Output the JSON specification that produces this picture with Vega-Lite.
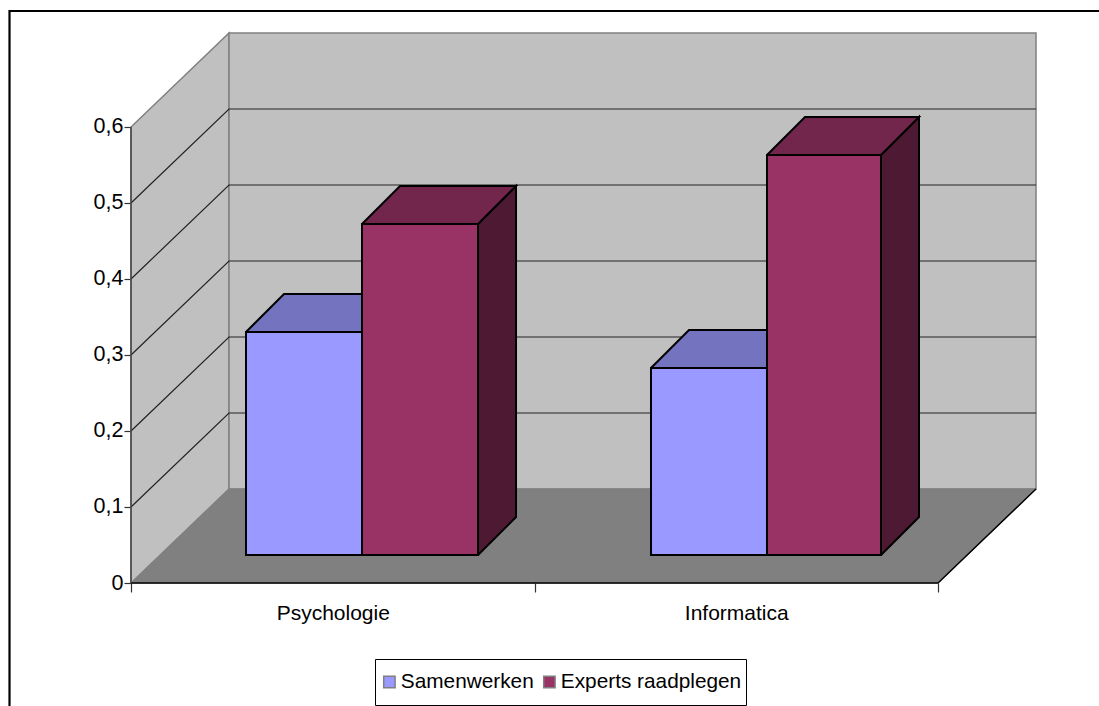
{
"$schema":"https://vega.github.io/schema/vega-lite/v6.json",
"width":906,"height":550,
"autosize":"none",
"padding":{"left":131,"top":33,"right":62,"bottom":123},
"background":"white",
"config":{"view":{"stroke":null},"font":"Liberation Sans"},
"datasets":{
"walls":[
{"face":"left wall","part":"wall","vertex":1,"x":0,"y":0},
{"face":"left wall","part":"wall","vertex":2,"x":0,"y":0.6},
{"face":"left wall","part":"wall","vertex":3,"x":0.2429,"y":0.7237},
{"face":"left wall","part":"wall","vertex":4,"x":0.2429,"y":0.1237},
{"face":"left wall","part":"wall","vertex":5,"x":0,"y":0},
{"face":"back wall","part":"wall","vertex":1,"x":0.2429,"y":0.1237},
{"face":"back wall","part":"wall","vertex":2,"x":0.2429,"y":0.7237},
{"face":"back wall","part":"wall","vertex":3,"x":2.2429,"y":0.7237},
{"face":"back wall","part":"wall","vertex":4,"x":2.2429,"y":0.1237},
{"face":"back wall","part":"wall","vertex":5,"x":0.2429,"y":0.1237}
],
"floor":[
{"face":"floor","part":"floor","vertex":1,"x":0,"y":0},
{"face":"floor","part":"floor","vertex":2,"x":0.2429,"y":0.1237},
{"face":"floor","part":"floor","vertex":3,"x":2.2429,"y":0.1237},
{"face":"floor","part":"floor","vertex":4,"x":2,"y":0},
{"face":"floor","part":"floor","vertex":5,"x":0,"y":0}
],
"grid":[
{"tick":0.1,"vertex":1,"x":0,"y":0.1},{"tick":0.1,"vertex":2,"x":0.2429,"y":0.2237},{"tick":0.1,"vertex":3,"x":2.2429,"y":0.2237},
{"tick":0.2,"vertex":1,"x":0,"y":0.2},{"tick":0.2,"vertex":2,"x":0.2429,"y":0.3237},{"tick":0.2,"vertex":3,"x":2.2429,"y":0.3237},
{"tick":0.3,"vertex":1,"x":0,"y":0.3},{"tick":0.3,"vertex":2,"x":0.2429,"y":0.4237},{"tick":0.3,"vertex":3,"x":2.2429,"y":0.4237},
{"tick":0.4,"vertex":1,"x":0,"y":0.4},{"tick":0.4,"vertex":2,"x":0.2429,"y":0.5237},{"tick":0.4,"vertex":3,"x":2.2429,"y":0.5237},
{"tick":0.5,"vertex":1,"x":0,"y":0.5},{"tick":0.5,"vertex":2,"x":0.2429,"y":0.6237},{"tick":0.5,"vertex":3,"x":2.2429,"y":0.6237}
],
"edges":[
{"edge":"floor","vertex":1,"x":0,"y":0},{"edge":"floor","vertex":2,"x":2,"y":0},{"edge":"floor","vertex":3,"x":2.2429,"y":0.1237}
],
"axisline":[
{"edge":"axis","vertex":1,"x":0,"y":0},{"edge":"axis","vertex":2,"x":0,"y":0.6}
],
"frame":[
{"edge":"frame","vertex":1,"x":-0.3011,"y":-0.2},{"edge":"frame","vertex":2,"x":-0.3011,"y":0.7526},{"edge":"frame","vertex":3,"x":2.42,"y":0.7526}
],
"faces":[
{"face":"PS side","part":"Samenwerken side","vertex":1,"x":0.5725,"y":0.0368},{"face":"PS side","part":"Samenwerken side","vertex":2,"x":0.6667,"y":0.0868},{"face":"PS side","part":"Samenwerken side","vertex":3,"x":0.6667,"y":0.3803},{"face":"PS side","part":"Samenwerken side","vertex":4,"x":0.5725,"y":0.3303},{"face":"PS side","part":"Samenwerken side","vertex":5,"x":0.5725,"y":0.0368},
{"face":"PS top","part":"Samenwerken top","vertex":1,"x":0.285,"y":0.3303},{"face":"PS top","part":"Samenwerken top","vertex":2,"x":0.3792,"y":0.3803},{"face":"PS top","part":"Samenwerken top","vertex":3,"x":0.6667,"y":0.3803},{"face":"PS top","part":"Samenwerken top","vertex":4,"x":0.5725,"y":0.3303},{"face":"PS top","part":"Samenwerken top","vertex":5,"x":0.285,"y":0.3303},
{"face":"PE side","part":"Experts side","vertex":1,"x":0.86,"y":0.0368},{"face":"PE side","part":"Experts side","vertex":2,"x":0.9542,"y":0.0868},{"face":"PE side","part":"Experts side","vertex":3,"x":0.9542,"y":0.5224},{"face":"PE side","part":"Experts side","vertex":4,"x":0.86,"y":0.4724},{"face":"PE side","part":"Experts side","vertex":5,"x":0.86,"y":0.0368},
{"face":"PE top","part":"Experts top","vertex":1,"x":0.5725,"y":0.4724},{"face":"PE top","part":"Experts top","vertex":2,"x":0.6667,"y":0.5224},{"face":"PE top","part":"Experts top","vertex":3,"x":0.9542,"y":0.5224},{"face":"PE top","part":"Experts top","vertex":4,"x":0.86,"y":0.4724},{"face":"PE top","part":"Experts top","vertex":5,"x":0.5725,"y":0.4724},
{"face":"IS side","part":"Samenwerken side","vertex":1,"x":1.5762,"y":0.0368},{"face":"IS side","part":"Samenwerken side","vertex":2,"x":1.6704,"y":0.0868},{"face":"IS side","part":"Samenwerken side","vertex":3,"x":1.6704,"y":0.3329},{"face":"IS side","part":"Samenwerken side","vertex":4,"x":1.5762,"y":0.2829},{"face":"IS side","part":"Samenwerken side","vertex":5,"x":1.5762,"y":0.0368},
{"face":"IS top","part":"Samenwerken top","vertex":1,"x":1.2887,"y":0.2829},{"face":"IS top","part":"Samenwerken top","vertex":2,"x":1.3829,"y":0.3329},{"face":"IS top","part":"Samenwerken top","vertex":3,"x":1.6704,"y":0.3329},{"face":"IS top","part":"Samenwerken top","vertex":4,"x":1.5762,"y":0.2829},{"face":"IS top","part":"Samenwerken top","vertex":5,"x":1.2887,"y":0.2829},
{"face":"IE side","part":"Experts side","vertex":1,"x":1.8587,"y":0.0368},{"face":"IE side","part":"Experts side","vertex":2,"x":1.9529,"y":0.0868},{"face":"IE side","part":"Experts side","vertex":3,"x":1.9529,"y":0.6132},{"face":"IE side","part":"Experts side","vertex":4,"x":1.8587,"y":0.5632},{"face":"IE side","part":"Experts side","vertex":5,"x":1.8587,"y":0.0368},
{"face":"IE top","part":"Experts top","vertex":1,"x":1.5762,"y":0.5632},{"face":"IE top","part":"Experts top","vertex":2,"x":1.6704,"y":0.6132},{"face":"IE top","part":"Experts top","vertex":3,"x":1.9529,"y":0.6132},{"face":"IE top","part":"Experts top","vertex":4,"x":1.8587,"y":0.5632},{"face":"IE top","part":"Experts top","vertex":5,"x":1.5762,"y":0.5632}
],
"bars":[
{"category":"Psychologie","series":"Samenwerken","value":0.2935,"start":0.285,"end":0.5725},
{"category":"Psychologie","series":"Experts raadplegen","value":0.4356,"start":0.5725,"end":0.86},
{"category":"Informatica","series":"Samenwerken","value":0.2461,"start":1.2887,"end":1.5762},
{"category":"Informatica","series":"Experts raadplegen","value":0.5264,"start":1.5762,"end":1.8587}
]
},
"layer":[
{"data":{"name":"walls"},
 "mark":{"type":"line","stroke":"#808080","strokeWidth":1.5},
 "encoding":{
  "x":{"field":"x","type":"quantitative","title":null,"scale":{"domain":[0,2.24535],"nice":false,"zero":false},
   "axis":{"values":[0,0.5,1,1.5,2],"grid":false,"domain":false,"title":null,"tickSize":9,"tickColor":"#333333","tickWidth":1.2,
    "tickOpacity":{"condition":{"test":"datum.value===0.5||datum.value===1.5","value":0},"value":1},
    "labelExpr":"datum.value===0.5?'Psychologie':datum.value===1.5?'Informatica':''","labelFontSize":21,"labelFont":"Liberation Sans","labelColor":"#000000","labelPadding":10,"labelAngle":0,"labelFlush":false,"labelOverlap":false}},
  "y":{"field":"y","type":"quantitative","title":null,"scale":{"domain":[0,0.72368],"nice":false,"zero":false},
   "axis":{"values":[0,0.1,0.2,0.3,0.4,0.5,0.6],"grid":false,"domain":false,"title":null,"tickSize":7,"tickColor":"#333333","tickWidth":1.2,
    "labelExpr":"replace(format(datum.value,'.1~f'),'.',',')","labelFontSize":21.5,"labelFont":"Liberation Sans","labelColor":"#000000","labelPadding":1,"labelOverlap":false}},
  "fill":{"field":"part","type":"nominal","title":null,"scale":{
    "domain":["Samenwerken","Experts raadplegen","wall","floor","Samenwerken top","Samenwerken side","Experts top","Experts side"],
    "range":["#9999FF","#993366","#C0C0C0","#808080","#7373BF","#4D4D80","#73264C","#4D1933"]},
   "legend":{"values":["Samenwerken","Experts raadplegen"],"title":null,"orient":"none","legendX":244,"legendY":626,"direction":"horizontal","columns":2,
    "fillColor":"#FFFFFF","strokeColor":"#000000","padding":4,"symbolType":"square","symbolSize":130,"symbolStrokeColor":"#000000","symbolStrokeWidth":1.5,
    "labelFontSize":20.8,"labelFont":"Liberation Sans","labelColor":"#000000","labelOffset":1,"columnPadding":5,"labelLimit":300,"clipHeight":38}},
  "detail":{"field":"face"},
  "order":{"field":"vertex","type":"quantitative"}
 }},
{"data":{"name":"floor"},
 "mark":{"type":"line","stroke":"#808080","strokeWidth":1},
 "encoding":{
  "x":{"field":"x","type":"quantitative","title":null},
  "y":{"field":"y","type":"quantitative","title":null},
  "fill":{"field":"part","type":"nominal","title":null},
  "detail":{"field":"face"},
  "order":{"field":"vertex","type":"quantitative"}
 }},
{"data":{"name":"grid"},
 "mark":{"type":"line","stroke":"#222222","strokeWidth":1.2},
 "encoding":{
  "x":{"field":"x","type":"quantitative","title":null},
  "y":{"field":"y","type":"quantitative","title":null},
  "detail":{"field":"tick"},
  "order":{"field":"vertex","type":"quantitative"}
 }},
{"data":{"name":"edges"},
 "mark":{"type":"line","stroke":"#000000","strokeWidth":1.5},
 "encoding":{
  "x":{"field":"x","type":"quantitative","title":null},
  "y":{"field":"y","type":"quantitative","title":null},
  "order":{"field":"vertex","type":"quantitative"}
 }},
{"data":{"name":"axisline"},
 "mark":{"type":"line","stroke":"#444444","strokeWidth":1.5},
 "encoding":{
  "x":{"field":"x","type":"quantitative","title":null},
  "y":{"field":"y","type":"quantitative","title":null},
  "order":{"field":"vertex","type":"quantitative"}
 }},
{"data":{"name":"frame"},
 "mark":{"type":"line","stroke":"#000000","strokeWidth":2.2,"clip":false},
 "encoding":{
  "x":{"field":"x","type":"quantitative","title":null},
  "y":{"field":"y","type":"quantitative","title":null},
  "order":{"field":"vertex","type":"quantitative"}
 }},
{"data":{"name":"faces"},
 "mark":{"type":"line","stroke":"#000000","strokeWidth":2},
 "encoding":{
  "x":{"field":"x","type":"quantitative","title":null},
  "y":{"field":"y","type":"quantitative","title":null},
  "fill":{"field":"part","type":"nominal","title":null},
  "detail":{"field":"face"},
  "order":{"field":"vertex","type":"quantitative"}
 }},
{"data":{"name":"bars"},
 "mark":{"type":"rect","stroke":"#000000","strokeWidth":2,"yOffset":-28,"y2Offset":-28},
 "encoding":{
  "x":{"field":"start","type":"quantitative","title":null},
  "x2":{"field":"end"},
  "y":{"field":"value","type":"quantitative","title":null},
  "y2":{"datum":0},
  "fill":{"field":"series","type":"nominal","title":null}
 }}
]
}
